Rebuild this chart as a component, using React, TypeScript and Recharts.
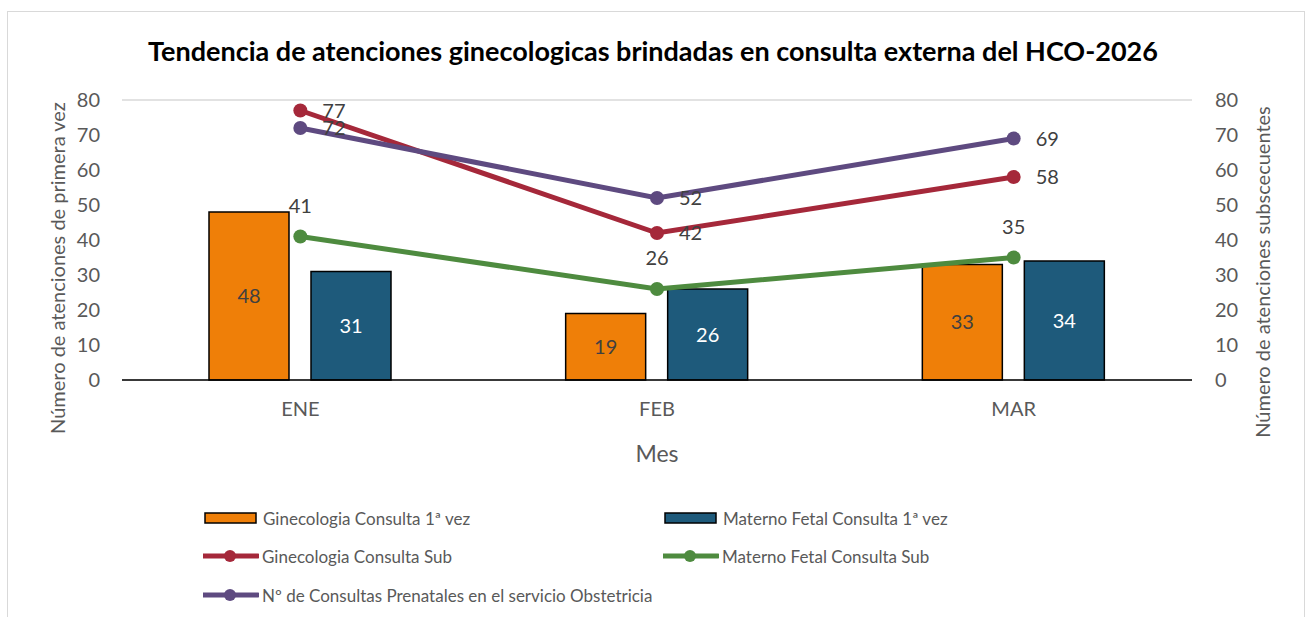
import React from 'react';
import {ComposedChart, Bar, Line, XAxis, YAxis, CartesianGrid, LabelList} from 'recharts';

const months = ['ENE', 'FEB', 'MAR'];
const gineFirst = [48, 19, 33];
const maternoFirst = [31, 26, 34];
const gineSub = [77, 42, 58];
const maternoSub = [41, 26, 35];
const prenatales = [72, 52, 69];
const yTicks = [0, 10, 20, 30, 40, 50, 60, 70, 80];

const data = months.map((m, i) => ({
	mes: m,
	gineFirst: gineFirst[i],
	maternoFirst: maternoFirst[i],
	gineSub: gineSub[i],
	maternoSub: maternoSub[i],
	prenatales: prenatales[i]
}));

const FONT = 'Lato, "Noto Sans", sans-serif';
const ORANGE = '#EF7F08';
const BLUE = '#1E5A7B';
const RED = '#A5283A';
const GREEN = '#4E8B3F';
const PURPLE = '#5E4A80';

const legendItems = [
	{name: 'Ginecologia Consulta 1ª vez', color: ORANGE, kind: 'bar', x: 204, y: 518},
	{name: 'Materno Fetal Consulta 1ª vez', color: BLUE, kind: 'bar', x: 664, y: 518},
	{name: 'Ginecologia Consulta Sub', color: RED, kind: 'line', x: 203, y: 556},
	{name: 'Materno Fetal Consulta Sub', color: GREEN, kind: 'line', x: 663, y: 556},
	{name: 'Nº de Consultas Prenatales en el servicio Obstetricia', color: PURPLE, kind: 'line', x: 203, y: 595}
];

function LegendSwatch({color, kind}: {color: string; kind: string}) {
	return (
		<svg width={56} height={16} style={{display: 'block'}}>
			{kind === 'bar' ? (
				<rect x={1} y={3} width={51} height={10} fill={color} stroke="#000" strokeWidth={1.5} />
			) : (
				<g>
					<line x1={0} y1={8} x2={55} y2={8} stroke={color} strokeWidth={5} strokeLinecap="round" />
					<circle cx={27} cy={8} r={6} fill={color} />
				</g>
			)}
		</svg>
	);
}

export default function App() {
	const tickStyle = {fill: '#595959', fontSize: 20, fontFamily: FONT};
	const labelStyle = {fill: '#404040', fontSize: 20, fontFamily: FONT};
	return (
		<div style={{position: 'absolute', left: 0, top: 0, width: 1306, height: 617, background: '#fff', overflow: 'hidden'}}>
			<div style={{position: 'absolute', left: 7, top: 11, width: 1296, height: 640, border: '1px solid #D9D9D9'}} />
			<div
				style={{
					position: 'absolute',
					left: 0,
					width: 1306,
					top: 34,
					textAlign: 'center',
					fontFamily: FONT,
					fontWeight: 700,
					fontSize: 27,
					color: '#000'
				}}
			>
				Tendencia de atenciones ginecologicas brindadas en consulta externa del HCO-2026
			</div>
			<div style={{position: 'absolute', left: 0, top: 0}}>
				<ComposedChart
					width={1306}
					height={617}
					data={data}
					barGap={22}
					margin={{top: 100, right: 24, left: 52, bottom: 147}}
				>
					<CartesianGrid vertical={false} stroke="#D9D9D9" strokeWidth={1.3} />
					<XAxis
						dataKey="mes"
						height={90}
						tickLine={false}
						tickSize={0}
						tickMargin={22}
						axisLine={{stroke: '#000', strokeWidth: 1.5}}
						tick={tickStyle}
						label={{value: 'Mes', position: 'insideBottom', offset: 8, fill: '#595959', fontSize: 23, fontFamily: FONT}}
					/>
					<YAxis
						yAxisId="left"
						width={70}
						domain={[0, 80]}
						ticks={yTicks}
						tickLine={false}
						tickSize={0}
						tickMargin={22}
						axisLine={false}
						tick={tickStyle}
						label={{
							content: () => (
								<text
									x={57}
									y={268}
									transform="rotate(-90 57 268)"
									textAnchor="middle"
									dominantBaseline="central"
									fill="#595959"
									fontSize={20}
									fontFamily={FONT}
								>
									Número de atenciones de primera vez
								</text>
							)
						}}
					/>
					<YAxis
						yAxisId="right"
						orientation="right"
						width={90}
						domain={[0, 80]}
						ticks={yTicks}
						tickLine={false}
						tickSize={0}
						tickMargin={23}
						axisLine={false}
						tick={tickStyle}
						label={{
							content: () => (
								<text
									x={1262}
									y={272}
									transform="rotate(-90 1262 272)"
									textAnchor="middle"
									dominantBaseline="central"
									fill="#595959"
									fontSize={20}
									fontFamily={FONT}
								>
									Número de atenciones subscecuentes
								</text>
							)
						}}
					/>
					<Bar yAxisId="left" dataKey="gineFirst" fill={ORANGE} stroke="#000" strokeWidth={1.5} barSize={80} isAnimationActive={false}>
						<LabelList dataKey="gineFirst" position="center" style={labelStyle} />
					</Bar>
					<Bar yAxisId="left" dataKey="maternoFirst" fill={BLUE} stroke="#000" strokeWidth={1.5} barSize={80} isAnimationActive={false}>
						<LabelList dataKey="maternoFirst" position="center" style={{...labelStyle, fill: '#fff'}} />
					</Bar>
					<Line
						yAxisId="right"
						dataKey="gineSub"
						stroke={RED}
						strokeWidth={5}
						dot={{r: 7, fill: RED, stroke: RED, strokeWidth: 0}}
						isAnimationActive={false}
					>
						<LabelList dataKey="gineSub" position="right" offset={22} style={labelStyle} />
					</Line>
					<Line
						yAxisId="right"
						dataKey="maternoSub"
						stroke={GREEN}
						strokeWidth={5}
						dot={{r: 7, fill: GREEN, stroke: GREEN, strokeWidth: 0}}
						isAnimationActive={false}
					>
						<LabelList dataKey="maternoSub" position="top" offset={24} style={labelStyle} />
					</Line>
					<Line
						yAxisId="right"
						dataKey="prenatales"
						stroke={PURPLE}
						strokeWidth={5}
						dot={{r: 7, fill: PURPLE, stroke: PURPLE, strokeWidth: 0}}
						isAnimationActive={false}
					>
						<LabelList dataKey="prenatales" position="right" offset={22} style={labelStyle} />
					</Line>
				</ComposedChart>
			</div>
			{legendItems.map((it) => (
				<div
					key={it.name}
					style={{
						position: 'absolute',
						left: it.x,
						top: it.y - 10,
						height: 20,
						display: 'flex',
						alignItems: 'center',
						fontFamily: FONT,
						fontSize: 17,
						color: '#595959',
						whiteSpace: 'nowrap'
					}}
				>
					<LegendSwatch color={it.color} kind={it.kind} />
					<span style={{marginLeft: 3}}>{it.name}</span>
				</div>
			))}
		</div>
	);
}
